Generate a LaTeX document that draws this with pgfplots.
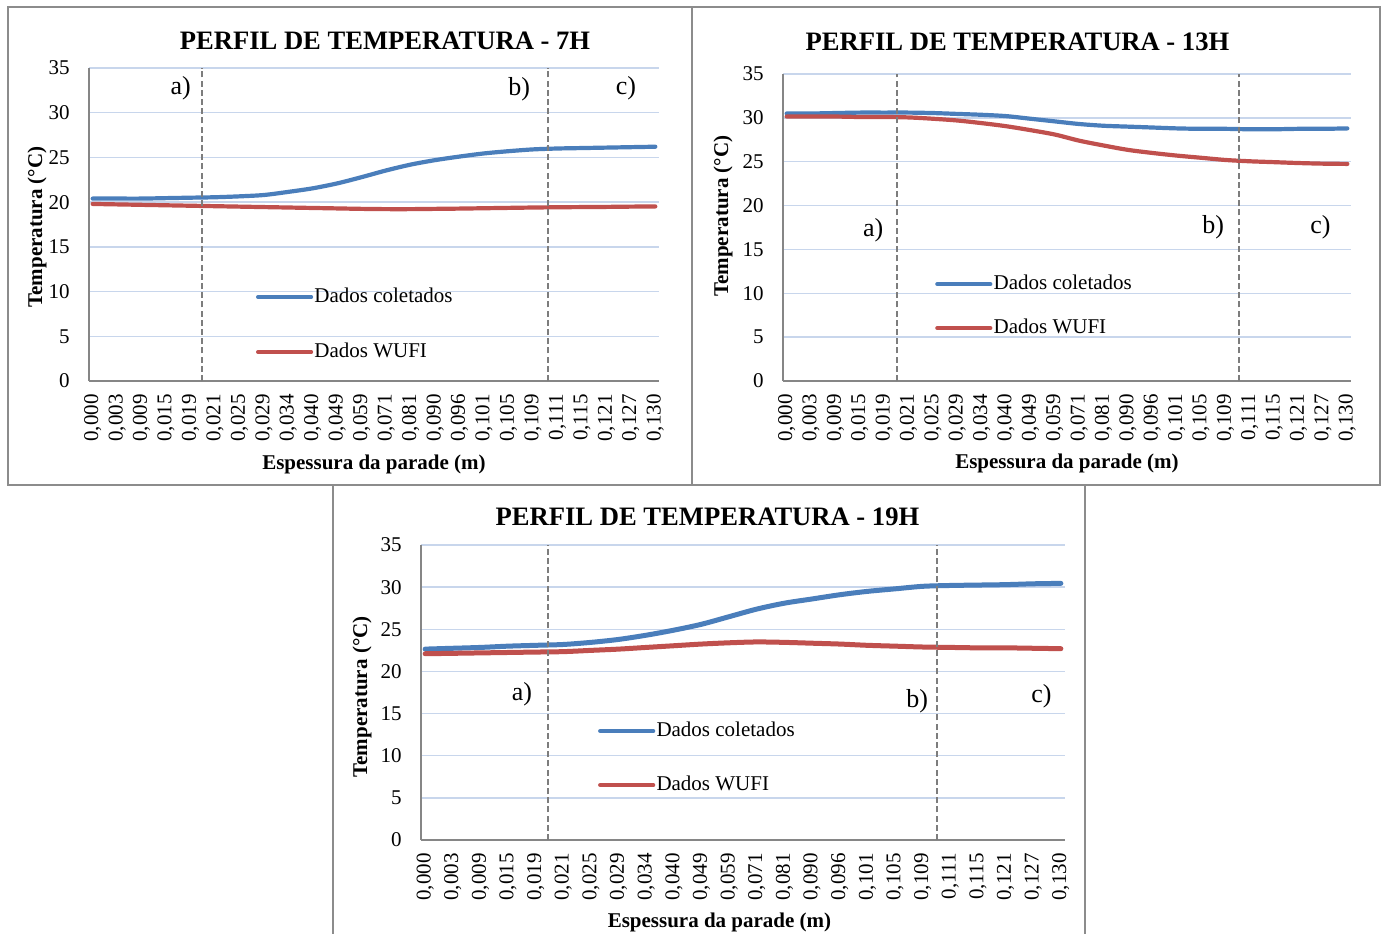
\documentclass[border=0pt]{standalone}
\usepackage{pgfplots}
\pgfplotsset{compat=1.18}
\usepackage{pgfplotstable}
\usepackage{fontspec}
\setmainfont{Liberation Serif}

\definecolor{serA}{RGB}{74,126,187}
\definecolor{serB}{RGB}{192,80,77}
\definecolor{gridc}{RGB}{200,214,236}
\definecolor{axc}{RGB}{134,134,134}
\definecolor{frc}{RGB}{140,140,140}
\definecolor{dashc}{RGB}{125,125,125}
\newcommand\fs{\fontsize{10.5}{12.6}\selectfont}

% perfil de temperatura: indice, dados coletados, dados WUFI
\pgfplotstableread{
i col wufi
0 20.40 19.80
1 20.40 19.75
2 20.40 19.70
3 20.45 19.65
4 20.50 19.60
5 20.55 19.55
6 20.65 19.50
7 20.80 19.45
8 21.15 19.40
9 21.55 19.35
10 22.10 19.30
11 22.80 19.25
12 23.55 19.22
13 24.20 19.22
14 24.70 19.25
15 25.10 19.28
16 25.45 19.32
17 25.70 19.36
18 25.90 19.40
19 26.00 19.43
20 26.05 19.45
21 26.10 19.47
22 26.15 19.50
23 26.20 19.52
}\tabSete

\pgfplotstableread{
i col wufi
0 30.50 30.15
1 30.50 30.15
2 30.55 30.15
3 30.60 30.10
4 30.60 30.10
5 30.60 30.05
6 30.55 29.90
7 30.45 29.70
8 30.35 29.40
9 30.20 29.05
10 29.90 28.60
11 29.60 28.10
12 29.30 27.40
13 29.10 26.85
14 29.00 26.35
15 28.90 26.00
16 28.80 25.70
17 28.75 25.45
18 28.75 25.20
19 28.70 25.05
20 28.70 24.95
21 28.75 24.85
22 28.75 24.78
23 28.80 24.75
}\tabTreze

\pgfplotstableread{
i col wufi
0 22.65 22.10
1 22.75 22.15
2 22.85 22.20
3 23.00 22.25
4 23.10 22.30
5 23.20 22.35
6 23.45 22.50
7 23.80 22.65
8 24.30 22.85
9 24.90 23.05
10 25.60 23.25
11 26.50 23.40
12 27.40 23.50
13 28.10 23.45
14 28.60 23.35
15 29.10 23.25
16 29.50 23.10
17 29.80 23.00
18 30.10 22.90
19 30.20 22.85
20 30.25 22.80
21 30.30 22.80
22 30.40 22.75
23 30.45 22.70
}\tabDezenove

\tikzset{
  colet/.style={serA, line width=2.1pt, smooth, tension=0.5, line cap=round},
  wufi/.style={serB, line width=2.1pt, smooth, tension=0.5, line cap=round},
  divisa/.style={dashc, line width=1.1pt, dash pattern=on 3pt off 1.6pt},
  letra/.style={font=\fontsize{13}{15}\selectfont},
}

\pgfplotsset{
  perfil/.style={
    scale only axis,
    xmin=-0.15, xmax=23.15, ymin=0, ymax=35,
    ytick={0,5,...,35},
    xtick={0,...,23},
    xticklabels={{0,000},{0,003},{0,009},{0,015},{0,019},{0,021},{0,025},{0,029},
      {0,034},{0,040},{0,049},{0,059},{0,071},{0,081},{0,090},{0,096},{0,101},
      {0,105},{0,109},{0,111},{0,115},{0,121},{0,127},{0,130}},
    axis x line*=bottom, axis y line*=left,
    axis line style={axc, line width=0.75pt},
    major tick length=0pt,
    ymajorgrids, major grid style={gridc, line width=0.7pt},
    tick label style={font=\fs},
    /pgf/number format/assume math mode=true,
    x tick label style={rotate=90, anchor=east, inner sep=0pt},
    xticklabel shift=6.5pt,
    y tick label style={anchor=east, inner sep=0pt},
    yticklabel shift=9.5pt,
    label style={font=\fs\bfseries},
    xlabel={Espessura da parade (m)},
    ylabel={Temperatura (°C)},
    legend cell align=left,
    legend image code/.code={\draw[##1, line width=2.1pt] (0pt,0pt) -- (26.5pt,0pt);},
    legend style={draw=none, fill=none, inner sep=0pt, outer sep=0pt,
      anchor=north west, column sep=0.6pt,
      nodes={inner sep=0pt, text height=7.3pt, text depth=2.3pt, font=\fs}},
  },
}

\begin{document}
\begin{tikzpicture}
\path[use as bounding box] (0pt,0pt) rectangle (691pt,-466.5pt);
\draw[frc, line width=0.9pt] (4pt,-242.5pt) rectangle (346pt,-3.5pt);
\draw[frc, line width=0.9pt] (346pt,-242.5pt) rectangle (690pt,-3.5pt);
\fill[white] (166.5pt,-470pt) rectangle (542.5pt,-242.5pt);
\draw[frc, line width=0.9pt] (166.5pt,-470pt) -- (166.5pt,-242.5pt) -- (542.5pt,-242.5pt) -- (542.5pt,-470pt);

% 7H
\begin{axis}[perfil, at={(44.5pt,-190.5pt)}, anchor=south west,
  width=285pt, height=156.5pt,
  xlabel style={at={(axis description cs:0.5,-0.265)}, anchor=center},
  ylabel style={at={(axis description cs:-0.0912,0.492)}, anchor=center},
  legend style={at={(0.293,0.299)}, row sep=17.9pt}]
\addplot[colet] table[x=i, y=col] {\tabSete};
\addplot[wufi] table[x=i, y=wufi] {\tabSete};
\legend{Dados coletados, Dados WUFI}
\draw[divisa] (axis cs:4.46,0) -- (axis cs:4.46,35);
\draw[divisa] (axis cs:18.62,0) -- (axis cs:18.62,35);
\node[letra] at (axis cs:3.6,32.7) {a)};
\node[letra] at (axis cs:17.44,32.6) {b)};
\node[letra] at (axis cs:21.8,32.7) {c)};
\end{axis}
\node[font=\fontsize{13.3}{16}\selectfont\bfseries] at (192.5pt,-20.5pt) {PERFIL DE TEMPERATURA - 7H};

% 13H
\begin{axis}[perfil, at={(391.5pt,-190.5pt)}, anchor=south west,
  width=284pt, height=153.5pt,
  xlabel style={at={(axis description cs:0.5,-0.270)}, anchor=center},
  ylabel style={at={(axis description cs:-0.1056,0.537)}, anchor=center},
  legend style={at={(0.268,0.347)}, row sep=12.4pt}]
\addplot[colet] table[x=i, y=col] {\tabTreze};
\addplot[wufi] table[x=i, y=wufi] {\tabTreze};
\legend{Dados coletados, Dados WUFI}
\draw[divisa] (axis cs:4.53,0) -- (axis cs:4.53,35);
\draw[divisa] (axis cs:18.55,0) -- (axis cs:18.55,35);
\node[letra] at (axis cs:3.55,17.2) {a)};
\node[letra] at (axis cs:17.5,17.5) {b)};
\node[letra] at (axis cs:21.9,17.5) {c)};
\end{axis}
\node[font=\fontsize{13.3}{16}\selectfont\bfseries] at (508.75pt,-21pt) {PERFIL DE TEMPERATURA - 13H};

% 19H
\begin{axis}[perfil, at={(210.5pt,-420pt)}, anchor=south west,
  width=322pt, height=147.5pt,
  xlabel style={at={(axis description cs:0.4635,-0.278)}, anchor=center},
  ylabel style={at={(axis description cs:-0.0916,0.485)}, anchor=center},
  legend style={at={(0.275,0.402)}, row sep=17.4pt}]
\addplot[colet, line width=2.5pt] table[x=i, y=col] {\tabDezenove};
\addplot[wufi, line width=2.5pt] table[x=i, y=wufi] {\tabDezenove};
\legend{Dados coletados, Dados WUFI}
\draw[divisa] (axis cs:4.44,0) -- (axis cs:4.44,35);
\draw[divisa] (axis cs:18.52,0) -- (axis cs:18.52,35);
\node[letra] at (axis cs:3.5,17.3) {a)};
\node[letra] at (axis cs:17.8,16.5) {b)};
\node[letra] at (axis cs:22.3,17.0) {c)};
\end{axis}
\node[font=\fontsize{13.3}{16}\selectfont\bfseries] at (353.75pt,-258.5pt) {PERFIL DE TEMPERATURA - 19H};
\end{tikzpicture}
\end{document}
